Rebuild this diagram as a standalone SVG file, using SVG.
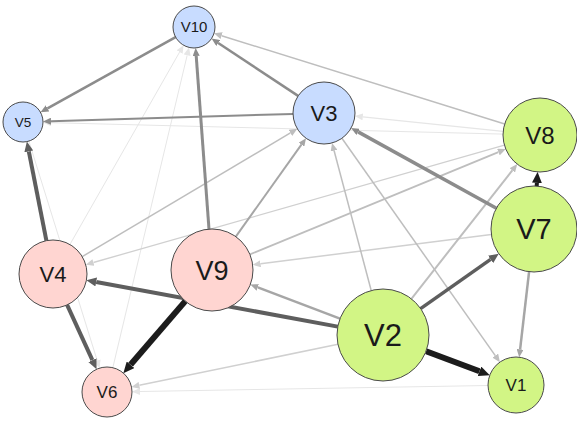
<svg xmlns="http://www.w3.org/2000/svg" width="577" height="421" viewBox="0 0 577 421">
  <style>
    .e { fill: none; stroke-linecap: butt; }
    .k { stroke: #1c1c1c; marker-end: url(#ak); }
    .d { stroke: #5e5e5e; marker-end: url(#ad); }
    .m { stroke: #8c8c8c; marker-end: url(#am); }
    .g { stroke: #a6a6a6; marker-end: url(#ag); }
    .l { stroke: #bebebe; marker-end: url(#al); }
    .p { stroke: #d0d0d0; marker-end: url(#ap); }
    .f { stroke: #e6e6e6; marker-end: url(#af); }
    .node circle { stroke: #4a4a4a; stroke-width: 1; }
    .blue circle { fill: #c8dcff; }
    .pink circle { fill: #ffd5d1; }
    .green circle { fill: #d2f585; }
    .node text { font-family: "Liberation Sans", Arial, sans-serif; fill: #1a1a1a; text-anchor: middle; }
  </style>
  <defs>
    <marker id="ak" markerUnits="userSpaceOnUse" viewBox="0 0 11 10" markerWidth="11" markerHeight="10" refX="0" refY="5" orient="auto"><path d="M0,0 L11,5 L0,10 z" fill="#1c1c1c"/></marker>
    <marker id="ad" markerUnits="userSpaceOnUse" viewBox="0 0 10 9" markerWidth="10" markerHeight="9" refX="0" refY="4.5" orient="auto"><path d="M0,0 L10,4.5 L0,9 z" fill="#5e5e5e"/></marker>
    <marker id="am" markerUnits="userSpaceOnUse" viewBox="0 0 8 7" markerWidth="8" markerHeight="7" refX="0" refY="3.5" orient="auto"><path d="M0,0 L8,3.5 L0,7 z" fill="#8c8c8c"/></marker>
    <marker id="ag" markerUnits="userSpaceOnUse" viewBox="0 0 8 7" markerWidth="8" markerHeight="7" refX="0" refY="3.5" orient="auto"><path d="M0,0 L8,3.5 L0,7 z" fill="#a6a6a6"/></marker>
    <marker id="al" markerUnits="userSpaceOnUse" viewBox="0 0 8 7" markerWidth="8" markerHeight="7" refX="0" refY="3.5" orient="auto"><path d="M0,0 L8,3.5 L0,7 z" fill="#bebebe"/></marker>
    <marker id="ap" markerUnits="userSpaceOnUse" viewBox="0 0 8 7" markerWidth="8" markerHeight="7" refX="0" refY="3.5" orient="auto"><path d="M0,0 L8,3.5 L0,7 z" fill="#d0d0d0"/></marker>
    <marker id="af" markerUnits="userSpaceOnUse" viewBox="0 0 8 7" markerWidth="8" markerHeight="7" refX="0" refY="3.5" orient="auto"><path d="M0,0 L8,3.5 L0,7 z" fill="#e6e6e6"/></marker>
  </defs>

  <g id="edges">
    <!-- faint links -->
    <line class="e f" stroke-width="1" x1="503.0" y1="134.1" x2="51.0" y2="122.7"/>
    <line class="e f" stroke-width="1.2" x1="503.2" y1="131.3" x2="362.8" y2="116.9"/>
    <line class="e f" stroke-width="1" x1="69.9" y1="244.5" x2="179.6" y2="52.1"/>
    <line class="e f" stroke-width="1" x1="112.8" y1="367.7" x2="187.2" y2="55.2"/>
    <line class="e f" stroke-width="1" x1="28.9" y1="141.1" x2="97.2" y2="360.5"/>
    <line class="e f" stroke-width="1" x1="488.0" y1="385.5" x2="140.0" y2="391.5"/>
    <!-- light links -->
    <line class="e p" stroke-width="1.3" x1="504.4" y1="145.2" x2="93.4" y2="262.5"/>
    <line class="e p" stroke-width="1.5" x1="491.3" y1="234.4" x2="260.6" y2="263.8"/>
    <line class="e p" stroke-width="1.5" x1="338.0" y1="344.3" x2="139.3" y2="385.3"/>
    <line class="e l" stroke-width="1.5" x1="504.7" y1="124.0" x2="221.6" y2="35.7"/>
    <line class="e l" stroke-width="1.5" x1="82.2" y1="256.6" x2="290.4" y2="132.9"/>
    <line class="e l" stroke-width="1.8" x1="249.9" y1="254.4" x2="498.4" y2="152.1"/>
    <line class="e l" stroke-width="1.5" x1="341.9" y1="138.3" x2="495.3" y2="355.6"/>
    <line class="e l" stroke-width="1.5" x1="371.2" y1="290.5" x2="334.1" y2="150.7"/>
    <line class="e l" stroke-width="2" x1="411.4" y1="298.8" x2="512.3" y2="170.4"/>
    <!-- medium links -->
    <line class="e g" stroke-width="2" x1="235.8" y1="236.6" x2="301.4" y2="144.7"/>
    <line class="e g" stroke-width="2.5" x1="340.0" y1="318.7" x2="257.8" y2="287.4"/>
    <line class="e g" stroke-width="2.5" x1="529.1" y1="271.7" x2="520.1" y2="349.3"/>
    <line class="e m" stroke-width="2.6" x1="175.6" y1="37.2" x2="47.5" y2="108.4"/>
    <line class="e m" stroke-width="2.5" x1="298.1" y1="95.9" x2="218.2" y2="43.0"/>
    <line class="e m" stroke-width="2" x1="293.0" y1="113.9" x2="51.0" y2="121.2"/>
    <line class="e m" stroke-width="3" x1="209.0" y1="229.1" x2="196.2" y2="55.9"/>
    <line class="e m" stroke-width="3.5" x1="496.4" y1="208.2" x2="358.1" y2="131.9"/>
    <!-- strong links -->
    <line class="e d" stroke-width="4" x1="46.4" y1="240.6" x2="28.8" y2="151.4"/>
    <line class="e d" stroke-width="4" x1="67.1" y1="304.9" x2="92.4" y2="360.2"/>
    <line class="e d" stroke-width="4" x1="337.8" y1="326.6" x2="96.2" y2="282.0"/>
    <line class="e d" stroke-width="3.5" x1="420.6" y1="308.6" x2="490.6" y2="259.4"/>
    <line class="e k" stroke-width="6" x1="185.3" y1="301.1" x2="130.5" y2="364.8"/>
    <line class="e k" stroke-width="4" x1="536.7" y1="186.1" x2="536.9" y2="182.9"/>
    <line class="e k" stroke-width="6" x1="426.1" y1="351.2" x2="479.5" y2="371.3"/>
  </g>

  <g id="V10" class="node blue"><circle cx="194" cy="27" r="21"/><text x="194" y="32.4" font-size="15">V10</text></g>
  <g id="V5" class="node blue"><circle cx="23" cy="122" r="20"/><text x="23" y="126.9" font-size="13.5">V5</text></g>
  <g id="V3" class="node blue"><circle cx="324" cy="113" r="31"/><text x="324" y="120.9" font-size="22">V3</text></g>
  <g id="V8" class="node green"><circle cx="540" cy="135" r="37"/><text x="540" y="143.6" font-size="24">V8</text></g>
  <g id="V7" class="node green"><circle cx="534" cy="229" r="43"/><text x="534" y="239.4" font-size="29">V7</text></g>
  <g id="V2" class="node green"><circle cx="383" cy="335" r="46"/><text x="383" y="346.2" font-size="31">V2</text></g>
  <g id="V1" class="node green"><circle cx="516" cy="385" r="28"/><text x="516" y="391.1" font-size="17">V1</text></g>
  <g id="V4" class="node pink"><circle cx="53" cy="274" r="34"/><text x="53" y="281.9" font-size="22">V4</text></g>
  <g id="V9" class="node pink"><circle cx="212" cy="270" r="41"/><text x="212" y="279.7" font-size="27">V9</text></g>
  <g id="V6" class="node pink"><circle cx="107" cy="392" r="25"/><text x="107" y="398.1" font-size="17">V6</text></g>
</svg>
